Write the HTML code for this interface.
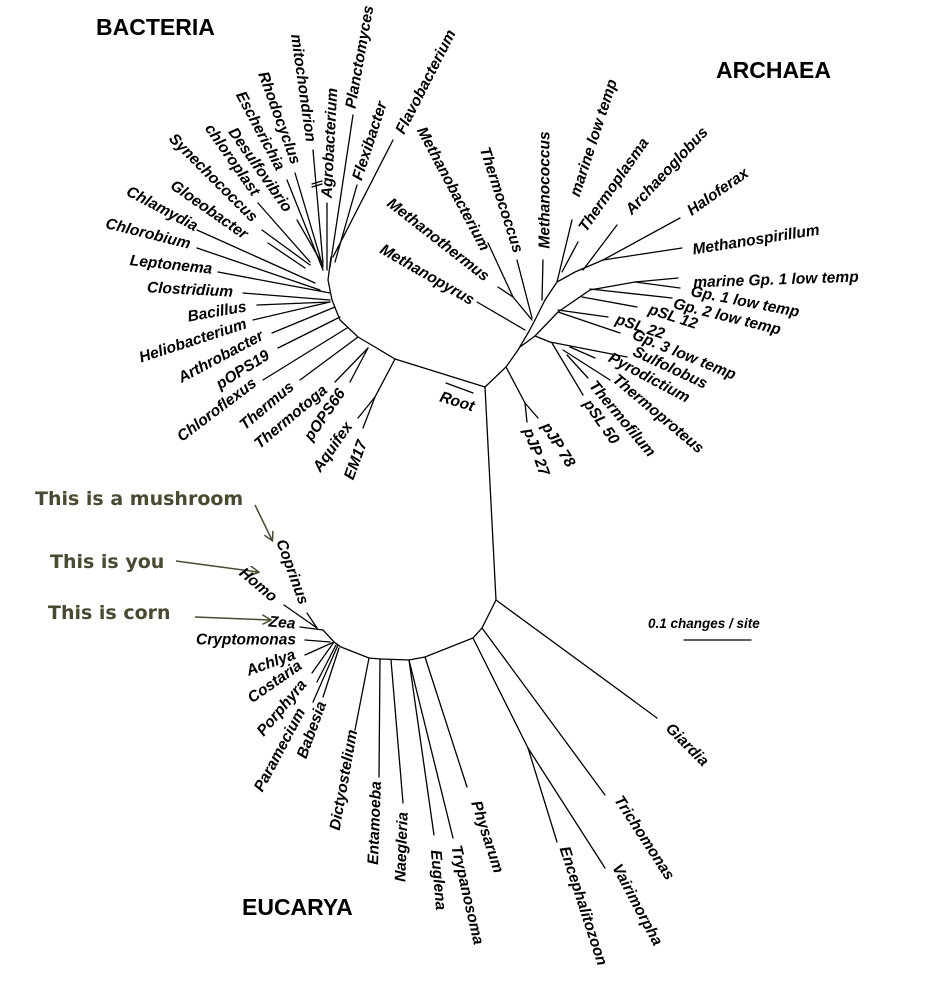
<!DOCTYPE html>
<html><head><meta charset="utf-8"><style>
html,body{margin:0;padding:0;background:#fff;}
svg{display:block;}
.l{font-family:"Liberation Sans",sans-serif;font-weight:bold;font-style:italic;font-size:15.5px;fill:#000;}
.h{font-family:"Liberation Sans",sans-serif;font-weight:bold;font-size:23px;fill:#000;}
.a{font-family:"DejaVu Sans","Liberation Sans",sans-serif;font-weight:bold;font-size:19px;fill:#4a4a32;}
</style></head><body>
<svg width="936" height="987" viewBox="0 0 936 987" xmlns="http://www.w3.org/2000/svg">
<defs><marker id="ar" markerWidth="10" markerHeight="10" refX="8" refY="5" orient="auto" markerUnits="userSpaceOnUse"><path d="M0,0 L9,5 L0,10" fill="none" stroke="#4a4a32" stroke-width="1.5"/></marker></defs>
<g stroke="#000" stroke-width="1.3" fill="none" stroke-linecap="round">
<polyline points="485,387 395,359 375,347 358,337 340,320 332,300 328,280 331,257"/>
<line x1="333" y1="257" x2="393" y2="140"/>
<line x1="335" y1="262" x2="357" y2="185"/>
<line x1="330" y1="267" x2="353" y2="115"/>
<line x1="327" y1="270" x2="327" y2="203"/>
<line x1="323" y1="263" x2="313" y2="150"/>
<line x1="312" y1="184" x2="322" y2="181"/><line x1="312" y1="187" x2="322" y2="184"/>
<line x1="323" y1="267" x2="295" y2="173"/>
<line x1="323" y1="270" x2="287" y2="180"/>
<line x1="323" y1="265" x2="297" y2="220"/>
<line x1="310" y1="262" x2="258" y2="203"/>
<line x1="310" y1="265" x2="262" y2="230"/>
<line x1="305" y1="268" x2="268" y2="243"/>
<line x1="315" y1="283" x2="197" y2="230"/>
<line x1="320" y1="290" x2="197" y2="248"/>
<line x1="330" y1="293" x2="218" y2="272"/>
<line x1="330" y1="300" x2="243" y2="293"/>
<line x1="330" y1="302" x2="257" y2="305"/>
<line x1="330" y1="302" x2="253" y2="320"/>
<line x1="335" y1="307" x2="272" y2="333"/>
<line x1="340" y1="317" x2="278" y2="348"/>
<line x1="347" y1="328" x2="263" y2="380"/>
<line x1="358" y1="337" x2="300" y2="380"/>
<line x1="368" y1="348" x2="335" y2="382"/>
<line x1="368" y1="348" x2="350" y2="382"/>
<line x1="395" y1="359" x2="375" y2="397"/>
<line x1="375" y1="397" x2="358" y2="418"/>
<line x1="375" y1="397" x2="363" y2="428"/>
<line x1="446" y1="383" x2="473" y2="393"/>
<polyline points="485,387 506,367 518,350 528,333 535,320 545,300 557,282 575,272 603,260"/>
<line x1="506" y1="367" x2="525" y2="403"/>
<line x1="525" y1="403" x2="538" y2="418"/>
<line x1="525" y1="403" x2="527" y2="422"/>
<line x1="525" y1="330" x2="477" y2="302"/>
<line x1="532" y1="320" x2="513" y2="297"/>
<line x1="513" y1="297" x2="498" y2="287"/>
<line x1="513" y1="297" x2="488" y2="243"/>
<line x1="532" y1="318" x2="517" y2="260"/>
<line x1="542" y1="300" x2="543" y2="260"/>
<line x1="557" y1="282" x2="572" y2="220"/>
<line x1="562" y1="272" x2="578" y2="242"/>
<line x1="583" y1="270" x2="617" y2="225"/>
<line x1="603" y1="260" x2="680" y2="218"/>
<line x1="603" y1="260" x2="682" y2="248"/>
<polyline points="520,347 535,336 558,312 590,290 635,282"/>
<line x1="535" y1="336" x2="550" y2="342"/>
<line x1="635" y1="282" x2="678" y2="278"/>
<line x1="635" y1="282" x2="680" y2="288"/>
<line x1="590" y1="289" x2="672" y2="298"/>
<line x1="582" y1="297" x2="637" y2="307"/>
<line x1="558" y1="310" x2="608" y2="317"/>
<line x1="558" y1="312" x2="620" y2="333"/>
<line x1="550" y1="342" x2="627" y2="357"/>
<line x1="570" y1="347" x2="595" y2="358"/>
<line x1="563" y1="350" x2="610" y2="380"/>
<line x1="567" y1="355" x2="588" y2="378"/>
<line x1="552" y1="343" x2="583" y2="395"/>
<line x1="485" y1="387" x2="496" y2="600"/>
<line x1="496" y1="600" x2="657" y2="718"/>
<polyline points="496,600 482,628 473,638 425,657 409,660 380,659 369,658 341,647 334,642 323,630"/>
<line x1="482" y1="628" x2="605" y2="795"/>
<line x1="473" y1="638" x2="528" y2="748"/>
<line x1="528" y1="748" x2="557" y2="842"/>
<line x1="528" y1="748" x2="605" y2="868"/>
<line x1="425" y1="657" x2="467" y2="787"/>
<line x1="409" y1="660" x2="453" y2="838"/>
<line x1="409" y1="660" x2="434" y2="835"/>
<line x1="391" y1="660" x2="403" y2="803"/>
<line x1="380" y1="659" x2="379" y2="777"/>
<line x1="369" y1="658" x2="355" y2="730"/>
<line x1="339" y1="648" x2="323" y2="697"/>
<line x1="338" y1="645" x2="313" y2="702"/>
<line x1="336" y1="645" x2="317" y2="682"/>
<line x1="334" y1="642" x2="312" y2="673"/>
<line x1="334" y1="642" x2="305" y2="655"/>
<line x1="330" y1="642" x2="305" y2="640"/>
<line x1="323" y1="630" x2="300" y2="627"/>
<line x1="317" y1="628" x2="284" y2="605"/>
<line x1="317" y1="628" x2="307" y2="613"/>
<line x1="684" y1="640" x2="751" y2="640"/>
</g>
<g stroke="#4a4a32" stroke-width="1.5" fill="none">
<line x1="255" y1="505" x2="272" y2="540" marker-end="url(#ar)"/>
<line x1="176" y1="561" x2="258" y2="572" marker-end="url(#ar)"/>
<line x1="195" y1="617" x2="270" y2="620" marker-end="url(#ar)"/>
</g>
<text class="h" x="96" y="35">BACTERIA</text>
<text class="h" x="716" y="78">ARCHAEA</text>
<text class="h" x="242" y="915">EUCARYA</text>
<text class="a" x="35" y="505">This is a mushroom</text>
<text class="a" x="50" y="568">This is you</text>
<text class="a" x="48" y="619">This is corn</text>
<text class="l" x="648" y="628" style="font-size:13.5px">0.1 changes / site</text>
<g class="l" text-anchor="middle" dominant-baseline="central">
<text transform="translate(426,82) rotate(-63)">Flavobacterium</text>
<text transform="translate(370,141) rotate(-72)">Flexibacter</text>
<text transform="translate(360,57) rotate(-80)">Planctomyces</text>
<text transform="translate(330,143) rotate(-87)">Agrobacterium</text>
<text transform="translate(303,88) rotate(82)">mitochondrion</text>
<text transform="translate(279,118) rotate(70)">Rhodocyclus</text>
<text transform="translate(260,131) rotate(62)">Escherichia</text>
<text transform="translate(260,170) rotate(55)">Desulfovibrio</text>
<text transform="translate(232,160) rotate(55)">chloroplast</text>
<text transform="translate(213,178) rotate(45)">Synechococcus</text>
<text transform="translate(209,210) rotate(35)">Gloeobacter</text>
<text transform="translate(162,209) rotate(28)">Chlamydia</text>
<text transform="translate(148,234) rotate(14)">Chlorobium</text>
<text transform="translate(171,265) rotate(6)">Leptonema</text>
<text transform="translate(190,290) rotate(3)">Clostridium</text>
<text transform="translate(217,312) rotate(-10)">Bacillus</text>
<text transform="translate(193,341) rotate(-18)">Heliobacterium</text>
<text transform="translate(221,357) rotate(-28)">Arthrobacter</text>
<text transform="translate(243,370) rotate(-32)">pOPS19</text>
<text transform="translate(217,410) rotate(-37)">Chloroflexus</text>
<text transform="translate(267,406) rotate(-40)">Thermus</text>
<text transform="translate(291,417) rotate(-40)">Thermotoga</text>
<text transform="translate(325,415) rotate(-55)">pOPS66</text>
<text transform="translate(333,447) rotate(-55)">Aquifex</text>
<text transform="translate(356,460) rotate(-70)">EM17</text>
<text transform="translate(457,402) rotate(17)">Root</text>
<text transform="translate(427,275) rotate(30)">Methanopyrus</text>
<text transform="translate(438,240) rotate(38)">Methanothermus</text>
<text transform="translate(453,189) rotate(62)">Methanobacterium</text>
<text transform="translate(501,200) rotate(72)">Thermococcus</text>
<text transform="translate(545,190) rotate(-90)">Methanococcus</text>
<text transform="translate(594,138) rotate(-72)">marine low temp</text>
<text transform="translate(614,185) rotate(-55)">Thermoplasma</text>
<text transform="translate(667,171) rotate(-47)">Archaeoglobus</text>
<text transform="translate(718,192) rotate(-35)">Haloferax</text>
<text transform="translate(756,240) rotate(-9)">Methanospirillum</text>
<text transform="translate(776,280) rotate(-2)">marine Gp. 1 low temp</text>
<text transform="translate(745,302) rotate(11)">Gp. 1 low temp</text>
<text transform="translate(727,317) rotate(14)">Gp. 2 low temp</text>
<text transform="translate(673,317) rotate(18)">pSL 12</text>
<text transform="translate(640,327) rotate(18)">pSL 22</text>
<text transform="translate(684,355) rotate(22)">Gp. 3 low temp</text>
<text transform="translate(670,368) rotate(25)">Sulfolobus</text>
<text transform="translate(649,378) rotate(28)">Pyrodictium</text>
<text transform="translate(658,414) rotate(40)">Thermoproteus</text>
<text transform="translate(622,419) rotate(50)">Thermofilum</text>
<text transform="translate(601,422) rotate(55)">pSL 50</text>
<text transform="translate(558,445) rotate(58)">pJP 78</text>
<text transform="translate(536,452) rotate(70)">pJP 27</text>
<text transform="translate(687,745) rotate(45)">Giardia</text>
<text transform="translate(644,838) rotate(57)">Trichomonas</text>
<text transform="translate(583,906) rotate(72)">Encephalitozoon</text>
<text transform="translate(637,905) rotate(62)">Vairimorpha</text>
<text transform="translate(487,837) rotate(72)">Physarum</text>
<text transform="translate(467,895) rotate(77)">Trypanosoma</text>
<text transform="translate(438,880) rotate(85)">Euglena</text>
<text transform="translate(402,847) rotate(-88)">Naegleria</text>
<text transform="translate(375,823) rotate(-88)">Entamoeba</text>
<text transform="translate(344,780) rotate(-80)">Dictyostelium</text>
<text transform="translate(312,730) rotate(-70)">Babesia</text>
<text transform="translate(280,750) rotate(-62)">Paramecium</text>
<text transform="translate(282,708) rotate(-50)">Porphyra</text>
<text transform="translate(275,682) rotate(-35)">Costaria</text>
<text transform="translate(271,663) rotate(-20)">Achlya</text>
<text transform="translate(246,640)">Cryptomonas</text>
<text transform="translate(282,623) rotate(5)">Zea</text>
<text transform="translate(258,585) rotate(40)">Homo</text>
<text transform="translate(292,572) rotate(70)">Coprinus</text>
</g>
</svg>
</body></html>
